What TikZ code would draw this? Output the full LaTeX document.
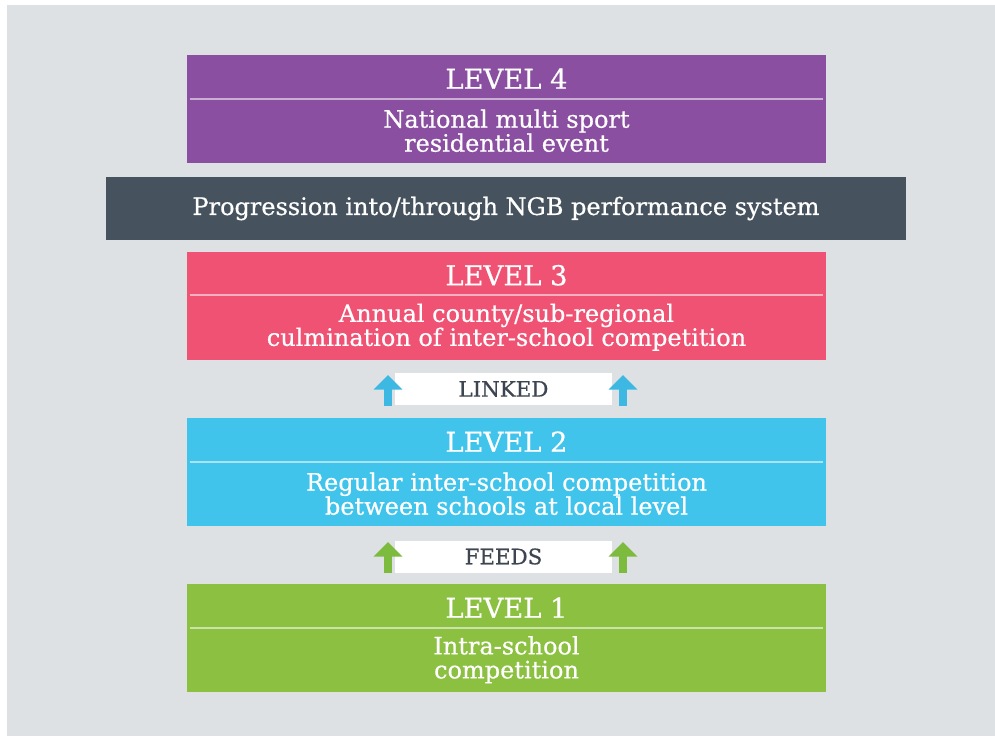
\documentclass[tikz,border=0pt]{standalone}
\usepackage{fontspec}
\setmainfont{DejaVu Serif}[FakeBold=0.6]
\usetikzlibrary{arrows.meta}
\usetikzlibrary{calc}
\usetikzlibrary{positioning}
\definecolor{bggrey}{HTML}{DEE1E3}
\definecolor{lvlfour}{HTML}{8A4FA0}
\definecolor{ngbgrey}{HTML}{46535E}
\definecolor{lvlthree}{HTML}{EF5272}
\definecolor{lvltwo}{HTML}{40C4EB}
\definecolor{lvlone}{HTML}{8CC040}
\definecolor{arrblue}{HTML}{3DB8E2}
\definecolor{arrgreen}{HTML}{7DBB3E}
\definecolor{striptext}{HTML}{3D4550}
\tikzset{
    lvl_box/.style = {rectangle, inner sep=0pt, minimum width=479.25pt,
        minimum height=81pt},% bloc de niveau
    lvl_head/.style = {anchor=base, inner sep=0pt, white,
        font=\fontsize{20.5}{24}\selectfont},% titre LEVEL n
    lvl_txt/.style = {align=center, inner sep=0pt, white,
        font=\fontsize{18}{18}\selectfont},% texte du niveau
    lvl_rule/.style = {white, opacity=0.55, line width=1.5pt},% trait sous le titre
    ngb_bar/.style = {rectangle, inner sep=0pt, fill=ngbgrey, text=white,
        minimum width=600pt, minimum height=47.25pt,
        font=\fontsize{18}{18}\selectfont},
    strip/.style = {rectangle, inner sep=0pt, fill=white, text=striptext,
        minimum width=162.75pt, minimum height=24pt,
        font=\fontsize{16}{16}\selectfont},% bande LINKED / FEEDS
    up_arr/.style = {line width=6pt, -{Triangle[width=21pt,length=11pt]}},
}

\begin{document}
\begin{tikzpicture}[x=0.75pt,y=-0.75pt]
\fill[white] (0,0) rectangle (995,736);
\fill[bggrey] (7,5) rectangle (995,736);
\useasboundingbox (0,0) rectangle (995,736);

% niveaux
\node[lvl_box, fill=lvlfour] (lvl4) at (506.5,109) {};
\node[ngb_bar] (ngb) at (506,208.5) {Progression into/through NGB performance system};
\node[lvl_box, fill=lvlthree] (lvl3) at (506.5,305.5) {};
\node[strip] (linked) at (503.5,389) {LINKED};
\node[lvl_box, fill=lvltwo] (lvl2) at (506.5,472) {};
\node[strip] (feeds) at (503.5,556.5) {FEEDS};
\node[lvl_box, fill=lvlone] (lvl1) at (506.5,638) {};

% titres et textes
\foreach \lv/\num in {lvl4/4,lvl3/3,lvl2/2,lvl1/1}{
    \node[lvl_head] (\lv_head) at ($(\lv.north)+(0,34)$) {LEVEL \num};
    \draw[lvl_rule] ($(\lv.north west)+(3,44)$) -- ($(\lv.north east)+(-3,44)$);
}
\node[lvl_txt] (lvl4_txt) at ($(lvl4.north)+(0,76)$) {National multi sport\\residential event};
\node[lvl_txt] (lvl3_txt) at ($(lvl3.north)+(0,76)$) {Annual county/sub-regional\\culmination of inter-school competition};
\node[lvl_txt] (lvl2_txt) at ($(lvl2.north)+(0,76)$) {Regular inter-school competition\\between schools at local level};
\node[lvl_txt] (lvl1_txt) at ($(lvl1.north)+(0,76)$) {Intra-school\\competition};

% fleches
\coordinate (l3a_s) at (388,406);
\coordinate (l3a_e) at (388,375);
\coordinate (l3b_s) at (623,406);
\coordinate (l3b_e) at (623,375);
\coordinate (l2a_s) at (388,573);
\coordinate (l2a_e) at (388,542);
\coordinate (l2b_s) at (623,573);
\coordinate (l2b_e) at (623,542);
\draw[up_arr, arrblue] (l3a_s) -- (l3a_e);
\draw[up_arr, arrblue] (l3b_s) -- (l3b_e);
\draw[up_arr, arrgreen] (l2a_s) -- (l2a_e);
\draw[up_arr, arrgreen] (l2b_s) -- (l2b_e);
\end{tikzpicture}
\end{document}
